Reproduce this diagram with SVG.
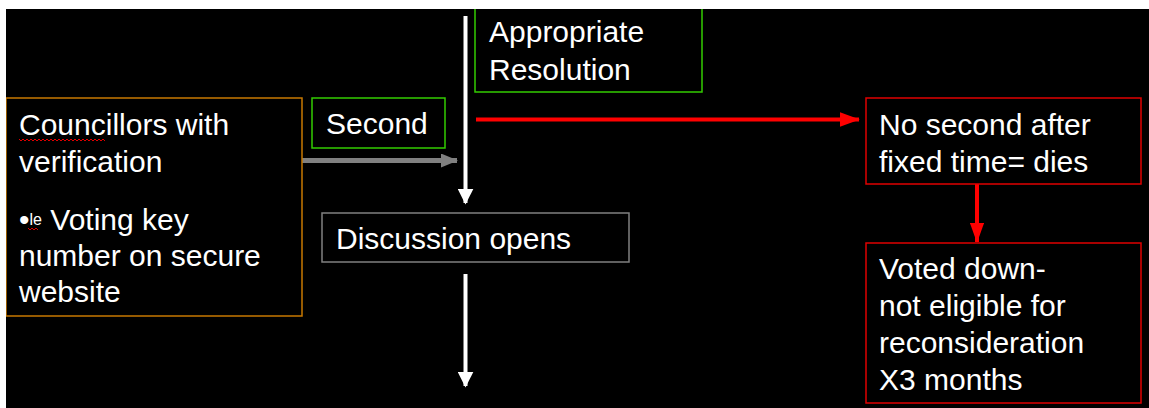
<svg xmlns="http://www.w3.org/2000/svg" width="1149" height="408" viewBox="0 0 1149 408">
<style>
  text { font-family: "Liberation Sans", Arial, sans-serif; font-size: 30px; fill: #ffffff; }
  .box { fill: #000000; stroke-width: 1.5; }
  .orange { stroke: #c87800; }
  .green { stroke: #33cc00; }
  .gray { stroke: #808080; }
  .red { stroke: #e00000; }
  .spell { fill: none; stroke: #e00000; stroke-width: 1; }
</style>
<defs>
  <marker id="hw" markerWidth="4" markerHeight="4" refX="3.6" refY="2" orient="auto" markerUnits="strokeWidth" viewBox="0 0 4 4">
    <path d="M0,0 L4,2 L0,4 Z" fill="#ffffff"/>
  </marker>
  <marker id="hg" markerWidth="3.4" markerHeight="2.8" refX="3.2" refY="1.4" orient="auto" markerUnits="strokeWidth" viewBox="0 0 3.4 2.8">
    <path d="M0,0 L3.4,1.4 L0,2.8 Z" fill="#808080"/>
  </marker>
  <marker id="hr" markerWidth="5" markerHeight="3.6" refX="4.8" refY="1.8" orient="auto" markerUnits="strokeWidth" viewBox="0 0 5 3.6">
    <path d="M0,0 L5,1.8 L0,3.6 Z" fill="#ff0000"/>
  </marker>
</defs>
<rect x="0" y="0" width="1149" height="408" fill="#000000"/>

<g id="connectors">
  <line x1="465.5" y1="16" x2="465.5" y2="203" stroke="#ffffff" stroke-width="4" marker-end="url(#hw)"/>
  <line x1="465.5" y1="274" x2="465.5" y2="386" stroke="#ffffff" stroke-width="4" marker-end="url(#hw)"/>
  <line x1="302" y1="160.5" x2="457" y2="160.5" stroke="#808080" stroke-width="5" marker-end="url(#hg)"/>
  <line x1="476" y1="119.5" x2="859" y2="119.5" stroke="#ff0000" stroke-width="4" marker-end="url(#hr)"/>
  <line x1="977" y1="184" x2="977" y2="242" stroke="#ff0000" stroke-width="4" marker-end="url(#hr)"/>
</g>

<g id="councillors">
  <rect class="box orange" x="6" y="98" width="296" height="218"/>
  <text x="19" y="135">Councillors with</text>
  <path class="spell" d="M19,139 l2,2 l2,-2 l2,2 l2,-2 l2,2 l2,-2 l2,2 l2,-2 l2,2 l2,-2 l2,2 l2,-2 l2,2 l2,-2 l2,2 l2,-2 l2,2 l2,-2 l2,2 l2,-2 l2,2 l2,-2 l2,2 l2,-2 l2,2 l2,-2 l2,2 l2,-2 l2,2 l2,-2 l2,2 l2,-2 l2,2 l2,-2 l2,2 l2,-2 l2,2 l2,-2 l2,2 l2,-2 l2,2 l2,-2 l2,2"/>
  <text x="19" y="172">verification</text>
  <text x="19" y="230">•<tspan font-size="16" dy="-5">le</tspan><tspan dy="5"> Voting key</tspan></text>
  <path class="spell" d="M28,228 l2,2 l2,-2 l2,2 l2,-2 l2,2"/>
  <text x="19" y="266">number on secure</text>
  <text x="19" y="302">website</text>
</g>

<g id="second">
  <rect class="box green" x="312" y="98" width="133" height="50"/>
  <text x="326" y="134">Second</text>
</g>

<g id="appropriate">
  <rect class="box green" x="475" y="-4" width="227" height="96"/>
  <text x="489" y="42">Appropriate</text>
  <text x="489" y="80">Resolution</text>
</g>

<g id="discussion">
  <rect class="box gray" x="322" y="213" width="307" height="49"/>
  <text x="336" y="249">Discussion opens</text>
</g>

<g id="nosecond">
  <rect class="box red" x="866" y="98" width="275" height="86"/>
  <text x="879" y="135">No second after</text>
  <text x="879" y="172">fixed time= dies</text>
</g>

<g id="voteddown">
  <rect class="box red" x="866" y="243" width="275" height="160"/>
  <text x="879" y="279">Voted down-</text>
  <text x="879" y="316">not eligible for</text>
  <text x="879" y="353">reconsideration</text>
  <text x="879" y="390">X3 months</text>
</g>

<rect x="0" y="0" width="1149" height="9" fill="#ffffff"/>
<rect x="0" y="0" width="6" height="408" fill="#ffffff"/>
</svg>
